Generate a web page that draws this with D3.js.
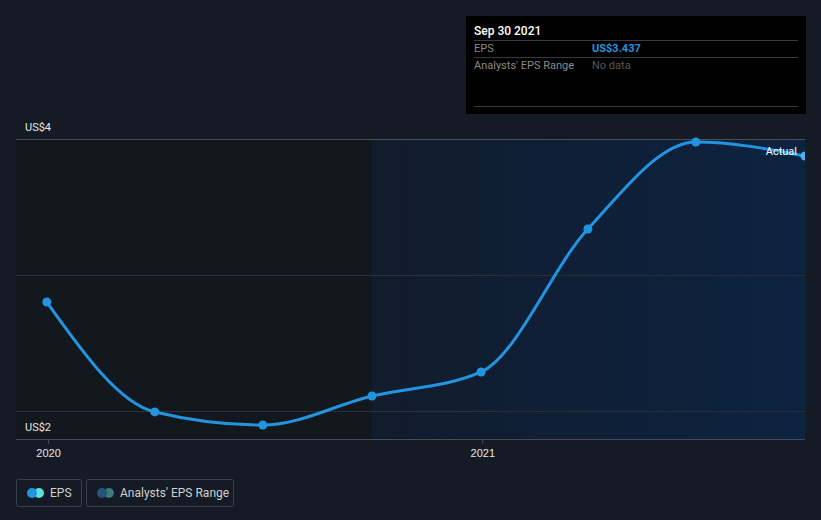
<!DOCTYPE html>
<html>
<head>
<meta charset="utf-8">
<script src="https://cdn.jsdelivr.net/npm/d3@7"></script>
<style>
  html, body { margin: 0; padding: 0; background: #151b24; }
  svg { display: block; font-family: Roboto, "Open Sans", sans-serif; }
</style>
</head>
<body>
<svg id="chart" width="821" height="520"></svg>
<script>
// ---- data ----
const dates = ["2019-12-31", "2020-03-31", "2020-06-30", "2020-09-30", "2020-12-31", "2021-03-31", "2021-06-30", "2021-09-30"];
const epsValues = [2.801, 1.993, 1.897, 2.110, 2.287, 3.338, 3.978, 3.875];
const yTickValues = [2, 3, 4];
const yTickLabels = ["US$2", "", "US$4"];
const xTickDates = ["2020-01-01", "2021-01-01"];
const xTickLabels = ["2020", "2021"];
const tooltipDate = "Sep 30 2021";
const tooltipEps = "US$3.437";
const legendLabels = ["EPS", "Analysts' EPS Range"];

const parse = d3.timeParse("%Y-%m-%d");
const points = dates.map((d, i) => ({ date: parse(d), value: epsValues[i] }));

const svg = d3.select("#chart");
const pLeft = 16, pRight = 805, pTop = 139, pBottom = 439;

const x = d3.scaleTime()
  .domain([parse("2019-12-05"), parse("2021-09-30")])
  .range([pLeft, pRight]);
const y = d3.scaleLinear()
  .domain([1.794, 4])
  .range([pBottom, pTop]);

const defs = svg.append("defs");
const grad = defs.append("linearGradient").attr("id", "fc").attr("x1", 0).attr("x2", 1).attr("y1", 0).attr("y2", 0);
grad.append("stop").attr("offset", "0%").attr("stop-color", "#111c2d");
grad.append("stop").attr("offset", "100%").attr("stop-color", "#0c2341");
defs.append("clipPath").attr("id", "clip").append("rect")
  .attr("x", 0).attr("y", 0).attr("width", pRight).attr("height", 520);

// past region (darker)
const splitX = x(points[3].date);
svg.append("rect").attr("x", pLeft).attr("y", pTop).attr("width", splitX - pLeft).attr("height", pBottom - pTop)
  .attr("fill", "#13171e");
// last-year region (blue)
svg.append("rect").attr("x", splitX).attr("y", pTop).attr("width", pRight - splitX).attr("height", pBottom - pTop)
  .attr("fill", "url(#fc)");

// gridlines
svg.append("g").selectAll("line").data(yTickValues).join("line")
  .attr("x1", pLeft).attr("x2", pRight)
  .attr("y1", d => Math.round(y(d)) + 0.5).attr("y2", d => Math.round(y(d)) + 0.5)
  .attr("stroke", d => d === 4 ? "#4a4f58" : "#2a303b")
  .attr("stroke-width", 1);

// bottom axis
const xAxis = d3.axisBottom(x)
  .tickValues(xTickDates.map(parse))
  .tickFormat((d, i) => xTickLabels[i])
  .tickSize(5).tickPadding(5);
const gx = svg.append("g").attr("transform", `translate(0,${pBottom})`).call(xAxis);
gx.select(".domain").attr("stroke", "#454b55").attr("d", `M${pLeft},0.5H${pRight}`);
gx.selectAll(".tick line").attr("stroke", "#454b55");
gx.selectAll(".tick text").attr("fill", "#e6e6e6").attr("font-size", 11);

// y labels
svg.append("g").selectAll("text").data(yTickValues.filter((d, i) => yTickLabels[i] !== "")).join("text")
  .attr("x", 25)
  .attr("y", d => d === 4 ? y(d) - 8 : y(d) + 20)
  .attr("fill", "#e6e6e6").attr("font-size", 11)
  .text(d => yTickLabels[yTickValues.indexOf(d)]);

// line
const line = d3.line().x(d => x(d.date)).y(d => y(d.value)).curve(d3.curveMonotoneX);
const g = svg.append("g").attr("clip-path", "url(#clip)");
g.append("path").datum(points).attr("d", line)
  .attr("fill", "none").attr("stroke", "#2394df").attr("stroke-width", 3);
g.selectAll("circle").data(points).join("circle")
  .attr("cx", d => x(d.date)).attr("cy", d => y(d.value))
  .attr("r", 4.5)
  .attr("fill", (d, i) => i === points.length - 1 ? "#4fb0ee" : "#2394df");

// Actual label
const last = points[points.length - 1];
svg.append("text").attr("x", 797).attr("y", y(last.value) - 1)
  .attr("text-anchor", "end").attr("fill", "#ffffff").attr("font-size", 11).text("Actual");

// tooltip
const tt = svg.append("g");
tt.append("rect").attr("x", 466).attr("y", 16).attr("width", 340).attr("height", 98).attr("fill", "#000000");
[40, 57, 106].forEach(yy => tt.append("line").attr("x1", 474).attr("x2", 798)
  .attr("y1", yy + 0.5).attr("y2", yy + 0.5).attr("stroke", "#3a3a3a"));
tt.append("text").attr("x", 474).attr("y", 35).attr("fill", "#ffffff").attr("font-size", 12).attr("font-weight", 500).text(tooltipDate);
tt.append("text").attr("x", 474).attr("y", 52).attr("fill", "#8a8a8a").attr("font-size", 11).text("EPS");
tt.append("text").attr("x", 592).attr("y", 52).attr("fill", "#2394df").attr("font-size", 11).attr("font-weight", 700).text(tooltipEps);
tt.append("text").attr("x", 474).attr("y", 69).attr("fill", "#8a8a8a").attr("font-size", 11).text("Analysts' EPS Range");
tt.append("text").attr("x", 592).attr("y", 69).attr("fill", "#5a5a5a").attr("font-size", 11).text("No data");

// legend
const legend = [
  { x: 16.5, w: 65, c1: "#2394df", c2: "#5ee0d6", label: legendLabels[0] },
  { x: 86.5, w: 147, c1: "#24557a", c2: "#3a7c7c", label: legendLabels[1] }
];
const lg = svg.append("g").selectAll("g").data(legend).join("g");
lg.append("rect").attr("x", d => d.x).attr("y", 479.5).attr("width", d => d.w).attr("height", 27).attr("rx", 2)
  .attr("fill", "none").attr("stroke", "#3a404a");
lg.append("circle").attr("cx", d => d.x + 22.5).attr("cy", 493).attr("r", 5).attr("fill", d => d.c2);
lg.append("circle").attr("cx", d => d.x + 15.5).attr("cy", 493).attr("r", 5).attr("fill", d => d.c1);
lg.append("text").attr("x", d => d.x + 33.5).attr("y", 497).attr("fill", "#d0d0d0").attr("font-size", 12).text(d => d.label);
</script>
</body>
</html>
